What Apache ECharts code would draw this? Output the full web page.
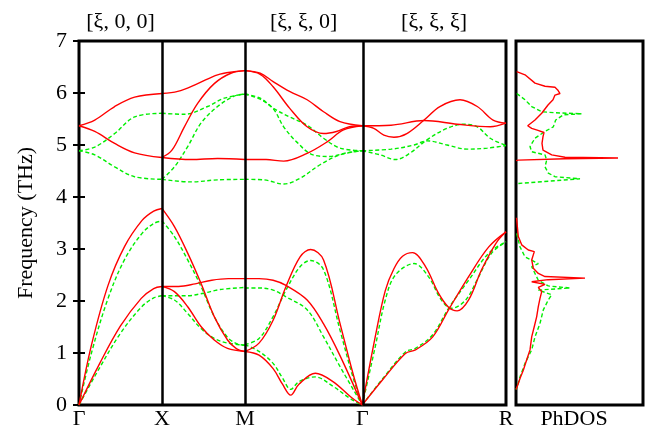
<!DOCTYPE html>
<html>
<head>
<meta charset="utf-8">
<script src="https://cdn.jsdelivr.net/npm/echarts@6/dist/echarts.min.js"></script>
<style>
html,body{margin:0;padding:0;background:#fff;}
#c{width:663px;height:429px;}
</style>
</head>
<body>
<div id="c"></div>
<script>
// ---- high-symmetry path ----
const kLabels = ['Γ', 'X', 'M', 'Γ', 'R'];
const kPos = [0, 0.5, 1.0, 1.7071, 2.5731];
const pathLabels = ['[ξ, 0, 0]', '[ξ, ξ, 0]', '[ξ, ξ, ξ]'];
const pathLabelSegs = [0, 2, 3];
const yTicks = [0, 1, 2, 3, 4, 5, 6, 7];

// ---- bands: [t within segment (0..1), frequency THz] ----
// segment 0: Γ-X
const redGX = [
  [[0,0],[0.15,1.15],[0.35,2.3],[0.55,3.05],[0.76,3.55],[0.9,3.73],[1,3.78]],
  [[0,0],[0.25,0.8],[0.5,1.52],[0.75,2.05],[0.9,2.24],[1,2.28]],
  [[0,5.37],[0.19,5.48],[0.43,5.74],[0.67,5.92],[1,5.99]],
  [[0,5.37],[0.19,5.26],[0.43,5.03],[0.67,4.85],[1,4.76]]
];
const greenGX = [
  [[0,0],[0.15,1.0],[0.35,2.05],[0.55,2.8],[0.76,3.3],[0.9,3.49],[1,3.54]],
  [[0,0],[0.25,0.72],[0.5,1.38],[0.75,1.88],[0.9,2.06],[1,2.1]],
  [[0,4.89],[0.19,4.96],[0.43,5.22],[0.67,5.54],[1,5.61]],
  [[0,4.89],[0.19,4.81],[0.43,4.58],[0.67,4.39],[1,4.34]]
];
// segment 1: X-M
const redXM = [
  [[0,3.78],[0.15,3.43],[0.31,2.92],[0.47,2.34],[0.63,1.7],[0.79,1.25],[0.9,1.08],[1,1.03]],
  [[0,2.28],[0.2,2.28],[0.4,2.33],[0.6,2.4],[0.8,2.43],[1,2.43]],
  [[0,2.28],[0.15,2.18],[0.31,1.89],[0.47,1.51],[0.63,1.25],[0.79,1.09],[1,1.03]],
  [[0,5.99],[0.19,6.03],[0.43,6.18],[0.67,6.35],[0.87,6.41],[1,6.43]],
  [[0,4.76],[0.12,4.9],[0.27,5.35],[0.43,5.8],[0.63,6.18],[0.83,6.38],[1,6.43]],
  [[0,4.76],[0.35,4.72],[0.67,4.74],[1,4.72]]
];
const greenXM = [
  [[0,3.54],[0.15,3.24],[0.31,2.79],[0.47,2.28],[0.63,1.7],[0.79,1.3],[0.9,1.18],[1,1.15]],
  [[0,2.1],[0.3,2.1],[0.5,2.15],[0.7,2.22],[1,2.26]],
  [[0,2.1],[0.15,2.02],[0.31,1.76],[0.47,1.47],[0.63,1.28],[0.79,1.19],[1,1.15]],
  [[0,5.61],[0.27,5.59],[0.55,5.74],[0.75,5.9],[1,5.98]],
  [[0,4.34],[0.15,4.58],[0.31,4.97],[0.47,5.42],[0.67,5.74],[0.87,5.94],[1,5.98]],
  [[0,4.34],[0.35,4.29],[0.67,4.33],[1,4.34]]
];
// segment 2: M-Γ
const redMG = [
  [[0,2.43],[0.12,2.43],[0.24,2.4],[0.35,2.3],[0.53,2.02],[0.67,1.56],[0.81,0.95],[1,0]],
  [[0,1.03],[0.12,1.19],[0.24,1.63],[0.35,2.28],[0.47,2.85],[0.56,2.99],[0.67,2.79],[0.81,1.57],[0.92,0.61],[1,0]],
  [[0,1.03],[0.12,0.96],[0.24,0.7],[0.32,0.4],[0.39,0.19],[0.46,0.4],[0.6,0.61],[0.75,0.45],[0.9,0.16],[1,0]],
  [[0,6.43],[0.13,6.38],[0.24,6.22],[0.38,6.03],[0.53,5.87],[0.67,5.64],[0.81,5.45],[1,5.37]],
  [[0,6.43],[0.13,6.36],[0.24,6.12],[0.38,5.71],[0.53,5.35],[0.67,5.22],[0.78,5.26],[0.89,5.35],[1,5.37]],
  [[0,4.72],[0.18,4.72],[0.33,4.69],[0.53,4.84],[0.7,5.06],[0.84,5.29],[1,5.37]]
];
const greenMG = [
  [[0,2.25],[0.12,2.25],[0.24,2.21],[0.35,2.08],[0.53,1.83],[0.67,1.31],[0.81,0.74],[1,0]],
  [[0,1.16],[0.12,1.28],[0.24,1.7],[0.35,2.21],[0.47,2.66],[0.56,2.78],[0.67,2.6],[0.81,1.44],[0.92,0.54],[1,0]],
  [[0,1.16],[0.12,1.03],[0.24,0.8],[0.32,0.52],[0.39,0.3],[0.46,0.45],[0.6,0.54],[0.75,0.36],[0.9,0.12],[1,0]],
  [[0,5.98],[0.13,5.9],[0.24,5.71],[0.38,5.54],[0.53,5.38],[0.67,5.13],[0.81,4.94],[1,4.89]],
  [[0,5.98],[0.13,5.88],[0.24,5.7],[0.33,5.35],[0.44,5.06],[0.58,4.81],[0.72,4.78],[0.87,4.85],[1,4.89]],
  [[0,4.34],[0.16,4.33],[0.33,4.25],[0.47,4.36],[0.64,4.62],[0.81,4.81],[1,4.89]]
];
// segment 3: Γ-R
const redGR = [
  [[0,0],[0.09,1.31],[0.16,2.2],[0.22,2.62],[0.28,2.86],[0.35,2.93],[0.44,2.66],[0.53,2.15],[0.6,1.88],[0.66,1.81],[0.74,2.02],[0.83,2.6],[0.93,3.11],[1,3.33]],
  [[0,0],[0.14,0.48],[0.3,0.99],[0.37,1.06],[0.49,1.31],[0.6,1.83],[0.74,2.47],[0.88,3.04],[1,3.33]],
  [[0,5.37],[0.08,5.32],[0.15,5.19],[0.22,5.15],[0.31,5.22],[0.43,5.48],[0.54,5.74],[0.68,5.87],[0.8,5.74],[0.91,5.48],[1,5.42]],
  [[0,5.37],[0.2,5.38],[0.43,5.47],[0.66,5.4],[0.89,5.35],[1,5.42]]
];
const greenGR = [
  [[0,0],[0.09,1.12],[0.16,2.02],[0.23,2.5],[0.36,2.72],[0.46,2.47],[0.55,2.02],[0.62,1.86],[0.72,2.02],[0.81,2.47],[0.9,2.92],[1,3.14]],
  [[0,0],[0.14,0.5],[0.3,1.02],[0.37,1.09],[0.49,1.35],[0.6,1.86],[0.74,2.4],[0.88,2.92],[1,3.14]],
  [[0,4.89],[0.125,4.81],[0.23,4.72],[0.33,4.84],[0.45,5.1],[0.59,5.32],[0.71,5.4],[0.8,5.35],[0.89,5.13],[1,4.99]],
  [[0,4.89],[0.2,4.92],[0.36,5.0],[0.45,5.08],[0.59,5.0],[0.73,4.92],[0.87,4.94],[1,4.99]]
];
const redSegs = [redGX, redXM, redMG, redGR];
const greenSegs = [greenGX, greenXM, greenMG, greenGR];

// ---- phonon DOS: [DOS (arb.), frequency THz] ----
const dosRedOpt = [[0.7,6.41],[9,6.35],[19,6.19],[29,6.13],[39,6.11],[41.7,6.06],[44,5.99],[39,5.96],[37,5.87],[32,5.77],[25.7,5.61],[19,5.48],[11.7,5.37],[15.7,5.32],[22,5.28],[28,5.24],[27,5.16],[26,5.03],[27,4.9],[35.7,4.81],[49,4.765],[102,4.75],[49,4.735],[2.3,4.71],[0,4.7]];
const dosRedAc = [[0.5,3.6],[2.3,3.24],[5.7,3.08],[12.3,2.98],[18.3,2.95],[15.7,2.79],[17.3,2.63],[22.3,2.53],[29,2.47],[69,2.44],[32,2.41],[15.7,2.37],[29,2.32],[22.3,2.26],[25.7,2.18],[24,2.05],[22.3,1.89],[20.7,1.7],[18.3,1.51],[15.7,1.31],[14,1.06],[10.7,0.87],[7.3,0.67],[4,0.51],[1.7,0.38],[0,0.3]];
const dosGreenOpt = [[0.7,5.99],[9,5.87],[15.7,5.74],[25.7,5.64],[39,5.62],[65.7,5.6],[47.3,5.58],[39.7,5.48],[37.3,5.35],[29,5.26],[19,5.13],[14,4.97],[15.7,4.87],[29,4.81],[30.7,4.71],[29,4.58],[32.3,4.46],[39,4.39],[64,4.35],[2.3,4.26]];
const dosGreenAc = [[0.7,3.3],[4,3.04],[9,2.85],[22.3,2.72],[15.7,2.66],[19,2.53],[22.3,2.4],[32.3,2.29],[54,2.25],[22.3,2.21],[35.7,2.12],[32.3,2.02],[27.3,1.83],[24,1.57],[19,1.31],[15.7,1.06],[9,0.8],[4,0.54],[1.7,0.38],[0,0.3]];

// ---- build ----
const FONT = 'Liberation Serif';
const RED = '#ff0000';
const GREEN = '#00ee00';
const toK = (seg, pts) => pts.map(p => [kPos[seg] + p[0] * (kPos[seg + 1] - kPos[seg]), p[1]]);
const series = [];
series.push({
  type: 'line', xAxisIndex: 0, yAxisIndex: 0, data: [], symbol: 'none', silent: true, z: 1,
  markLine: {
    silent: true, symbol: 'none', label: {show: false},
    lineStyle: {color: '#000', width: 2.5, type: 'solid'},
    emphasis: {disabled: true},
    data: kPos.slice(1, kPos.length - 1).map(k => ({xAxis: k}))
  }
});
function addBands(segs, color, dashed) {
  segs.forEach((bands, s) => bands.forEach(b => series.push({
    type: 'line', xAxisIndex: 0, yAxisIndex: 0, data: toK(s, b), smooth: 0.35,
    symbol: 'none', silent: true, z: dashed ? 2 : 3,
    lineStyle: {color: color, width: 1.4, type: dashed ? [4, 2.5] : 'solid'}
  })));
}
addBands(greenSegs, GREEN, true);
addBands(redSegs, RED, false);
function addDos(d, color, dashed) {
  series.push({
    type: 'line', xAxisIndex: 2, yAxisIndex: 2, data: d, symbol: 'none', silent: true,
    z: dashed ? 2 : 3,
    lineStyle: {color: color, width: 1.4, type: dashed ? [4, 2.5] : 'solid'}
  });
}
addDos(dosGreenOpt, GREEN, true);
addDos(dosGreenAc, GREEN, true);
addDos(dosRedOpt, RED, false);
addDos(dosRedAc, RED, false);

const labelStyle = {fontFamily: FONT, fontSize: 22, color: '#000'};
const nearestIdx = (arr, v) => arr.reduce((bi, x, i) => Math.abs(x - v) < Math.abs(arr[bi] - v) ? i : bi, 0);
const midPos = pathLabelSegs.map(s => (kPos[s] + kPos[s + 1]) / 2);

const option = {
  animation: false,
  backgroundColor: '#fff',
  grid: [
    {left: 79, top: 41, width: 427, height: 364, containLabel: false, outerBoundsMode: 'none',
     show: true, borderColor: '#000', borderWidth: 3, backgroundColor: 'transparent'},
    {left: 516, top: 41, width: 127, height: 364, containLabel: false, outerBoundsMode: 'none',
     show: true, borderColor: '#000', borderWidth: 3, backgroundColor: 'transparent'}
  ],
  xAxis: [
    {gridIndex: 0, type: 'value', min: kPos[0], max: kPos[kPos.length - 1], position: 'bottom',
     axisLine: {show: false}, axisTick: {show: false}, splitLine: {show: false},
     axisLabel: Object.assign({customValues: kPos, margin: 3, formatter: v => kLabels[nearestIdx(kPos, v)]}, labelStyle)},
    {gridIndex: 0, type: 'value', min: kPos[0], max: kPos[kPos.length - 1], position: 'top',
     axisLine: {show: false}, axisTick: {show: false}, splitLine: {show: false},
     axisLabel: Object.assign({customValues: midPos, margin: 8, formatter: v => pathLabels[nearestIdx(midPos, v)]}, labelStyle)},
    {gridIndex: 1, type: 'value', min: 0, max: 127, position: 'bottom',
     axisLine: {show: false}, axisTick: {show: false}, splitLine: {show: false}, axisLabel: {show: false},
     name: 'PhDOS', nameLocation: 'middle', nameGap: 3,
     nameTextStyle: Object.assign({verticalAlign: 'top', padding: [0, 11, 0, 0]}, labelStyle)}
  ],
  yAxis: [
    {gridIndex: 0, type: 'value', min: 0, max: 7, interval: 1, position: 'left',
     axisLine: {show: false}, splitLine: {show: false},
     axisTick: {show: true, inside: true, length: 6, lineStyle: {color: '#000', width: 2}},
     axisLabel: Object.assign({margin: 12}, labelStyle),
     name: 'Frequency (THz)', nameLocation: 'middle', nameGap: 42, nameRotate: 90,
     nameTextStyle: labelStyle},
    {gridIndex: 0, type: 'value', min: 0, max: 7, interval: 1, position: 'right',
     axisLine: {show: false}, splitLine: {show: false}, axisLabel: {show: false},
     axisTick: {show: true, inside: true, length: 6, lineStyle: {color: '#000', width: 2}}},
    {gridIndex: 1, type: 'value', min: 0, max: 7, interval: 1,
     axisLine: {show: false}, splitLine: {show: false}, axisLabel: {show: false}, axisTick: {show: false}}
  ],
  series: series
};
const chart = echarts.init(document.getElementById('c'), null, {renderer: 'canvas'});
chart.setOption(option);
</script>
</body>
</html>
